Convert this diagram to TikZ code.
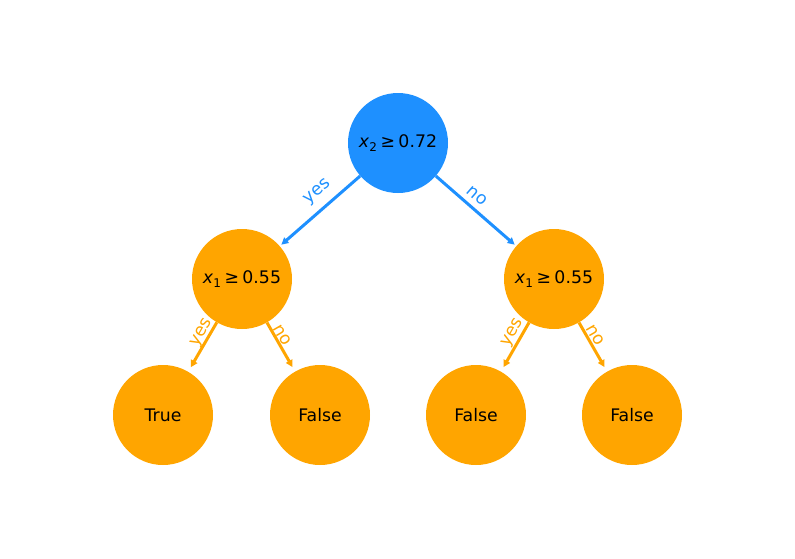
\documentclass[tikz,border=0pt]{standalone}
\usepackage{fontspec}
\setmainfont{DejaVu Sans}
\usetikzlibrary{arrows.meta}
\definecolor{cblue}{RGB}{30,144,255}
\definecolor{corange}{RGB}{255,165,0}
\newcommand{\xv}[1]{\textit{x}\raisebox{-0.22em}{\fontsize{12}{12}\selectfont #1}}
\newcommand{\geqs}{\hspace{3.5pt}≥\hspace{3.5pt}}
\tikzset{
  tnode/.style={circle, minimum size=100pt, inner sep=0pt, text=black, font=\fontsize{17.3}{20}\selectfont},
  bluenode/.style={tnode, fill=cblue},
  orangenode/.style={tnode, fill=corange},
  conn/.style={line width=3pt, -{Triangle[length=7pt,width=7pt]}},
  elab/.style={font=\fontsize{17.3}{20}\selectfont, inner sep=0pt}
}
\begin{document}
\begin{tikzpicture}[x=1pt,y=-1pt]
\useasboundingbox (0,0) rectangle (795,558);
\node[bluenode] (root) at (398,143) {\xv{2}\geqs 0.72};
\node[orangenode] (L) at (242,279) {\xv{1}\geqs 0.55};
\node[orangenode] (R) at (554,279) {\xv{1}\geqs 0.55};
\node[orangenode] (LL) at (163,415) {True};
\node[orangenode] (LR) at (320,415) {False};
\node[orangenode] (RL) at (476,415) {False};
\node[orangenode] (RR) at (632,415) {False};
\draw[conn, cblue, shorten >=2pt] (root) -- (L);
\draw[conn, cblue, shorten >=2pt] (root) -- (R);
\draw[conn, corange, shorten >=5pt] (L) -- (LL);
\draw[conn, corange, shorten >=5pt] (L) -- (LR);
\draw[conn, corange, shorten >=5pt] (R) -- (RL);
\draw[conn, corange, shorten >=5pt] (R) -- (RR);
\node[elab, text=cblue, rotate=41] (l1) at (318,192) {yes};
\node[elab, text=cblue, rotate=-41] (l2) at (477,196) {no};
\node[elab, text=corange, rotate=60] (l3) at (202,333) {yes};
\node[elab, text=corange, rotate=-60] (l4) at (282,335) {no};
\node[elab, text=corange, rotate=60] (l5) at (513,333) {yes};
\node[elab, text=corange, rotate=-60] (l6) at (595,335) {no};
\end{tikzpicture}
\end{document}
